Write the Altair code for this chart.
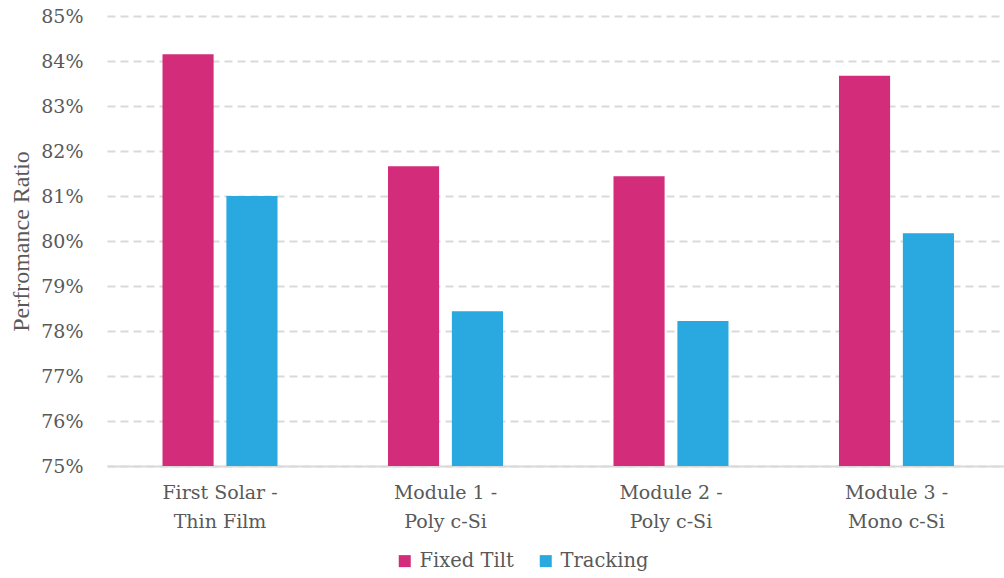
import altair as alt
import pandas as pd

categories = ["First Solar - Thin Film", "Module 1 - Poly c-Si", "Module 2 - Poly c-Si", "Module 3 - Mono c-Si"]
series = ["Fixed Tilt", "Tracking"]
fixed_tilt = [0.8415, 0.8166, 0.8144, 0.8367]
tracking = [0.8100, 0.7844, 0.7822, 0.8017]
y_ticks = [0.75, 0.76, 0.77, 0.78, 0.79, 0.80, 0.81, 0.82, 0.83, 0.84, 0.85]
colors = ["#D22C7A", "#29A9E0"]

rows = []
for i, c in enumerate(categories):
    rows.append({"cat": c, "series": series[0], "value": fixed_tilt[i]})
    rows.append({"cat": c, "series": series[1], "value": tracking[i]})
df = pd.DataFrame(rows)

TITLE_FONT = "Liberation Serif"
LABEL_FONT = "DejaVu Serif"
GRAY = "#595959"

axis_x = alt.Axis(title=None, labelAngle=0, ticks=False, tickSize=0,
                  domain=True, domainColor="#d9d9d9", domainWidth=2,
                  labelFont=LABEL_FONT, labelFontSize=19, labelColor=GRAY,
                  labelPadding=17, labelLineHeight=29, labelBaseline="top",
                  labelExpr="[split(datum.label, ' - ')[0] + ' -', split(datum.label, ' - ')[1]]")
axis_y = alt.Axis(title="Perfromance Ratio", values=y_ticks, format=".0%",
                  ticks=False, tickSize=0, domain=False,
                  grid=True, gridColor="#d9d9d9", gridWidth=2, gridDash=[8, 5],
                  labelFont=LABEL_FONT, labelFontSize=19, labelColor=GRAY, labelPadding=24,
                  titleFont=TITLE_FONT, titleFontSize=24, titleColor=GRAY, titleFontWeight="normal",
                  titleX=-86, titleY=225, titleAngle=-90, titleAlign="center",
                  titleBaseline="middle")

chart = alt.Chart(df).mark_bar(clip=True).encode(
    x=alt.X("cat:N", sort=categories,
            scale=alt.Scale(paddingInner=0.49, paddingOuter=0.234, align=0.526),
            axis=axis_x),
    xOffset=alt.XOffset("series:N", sort=series,
                        scale=alt.Scale(paddingInner=0.2, paddingOuter=0)),
    y=alt.Y("value:Q",
            scale=alt.Scale(domain=[0.75, 0.85], nice=False, zero=False),
            axis=axis_y),
    color=alt.Color("series:N", sort=series,
                    scale=alt.Scale(domain=series, range=colors),
                    legend=alt.Legend(title=None, orient="none", legendX=288, legendY=535,
                                      direction="horizontal", symbolType="square",
                                      symbolSize=144, symbolStrokeWidth=0,
                                      labelFont=LABEL_FONT, labelFontSize=19.5,
                                      labelColor=GRAY,
                                      labelOffset=5, columnPadding=22)),
).properties(
    width=897, height=450,
    padding={"left": 107, "top": 16, "right": 0, "bottom": 112},
    autosize=alt.AutoSizeParams(type="none"),
).configure(
    background="white"
).configure_view(stroke=None)

chart.save("out.html", embed_options={"renderer": "svg", "actions": False})
